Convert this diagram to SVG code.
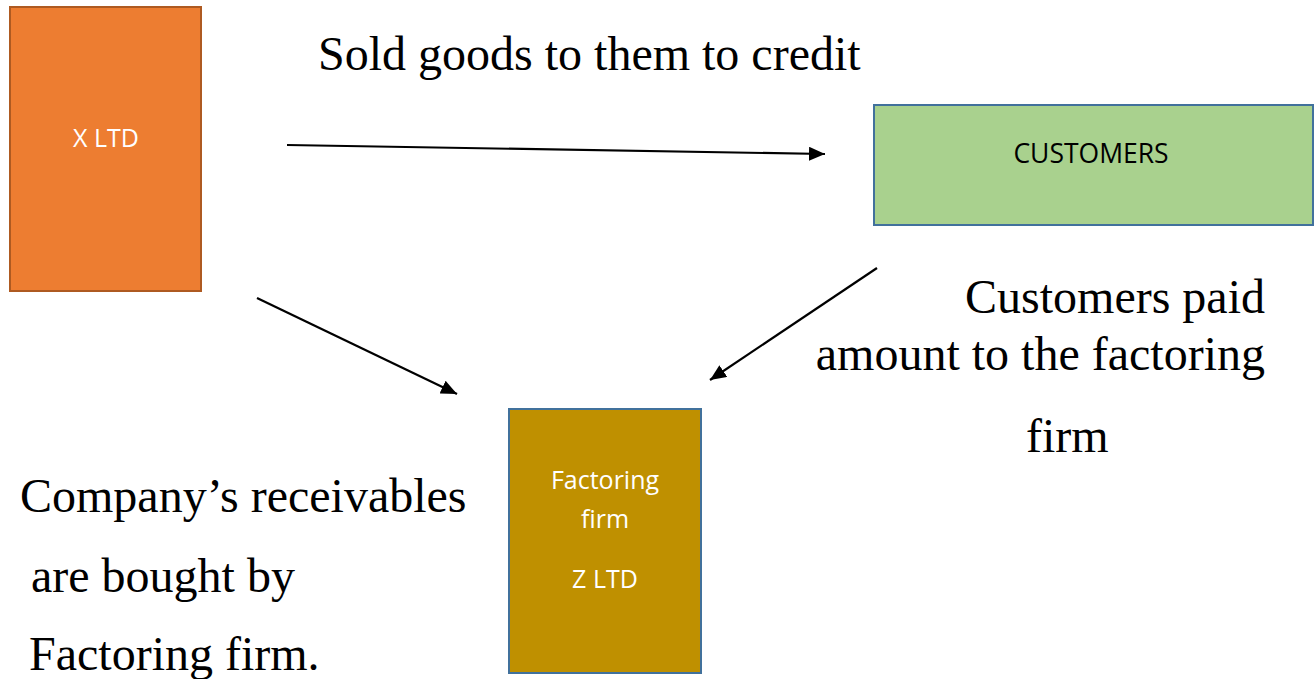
<svg xmlns="http://www.w3.org/2000/svg" width="1314" height="679" viewBox="0 0 1314 679">
<style>
.box-label{font-family:"Open Sans","Liberation Sans",sans-serif;font-size:25px;text-anchor:middle}
.note{font-family:"Liberation Serif","Times New Roman",serif;font-size:48px;fill:#000}
.conn{stroke:#000;stroke-width:2.2;fill:none}
</style>
<defs>
<marker id="arrow" markerUnits="userSpaceOnUse" markerWidth="18" markerHeight="14" refX="16" refY="7" orient="auto">
<path d="M0,0 L16,7 L0,14 Z" fill="#000"/>
</marker>
</defs>
<rect width="1314" height="679" fill="#fff"/>
<g id="node-xltd">
<rect x="10" y="7" width="191" height="284" fill="#ED7D31" stroke="#AE5A21" stroke-width="2"/>
<text class="box-label" x="106" y="147" fill="#fff">X LTD</text>
</g>
<g id="node-customers">
<rect x="874" y="105" width="439" height="120" fill="#A9D18E" stroke="#41719C" stroke-width="2"/>
<text class="box-label" x="1091" y="163" fill="#000" style="font-size:26.5px">CUSTOMERS</text>
</g>
<g id="node-factoring">
<rect x="509" y="409" width="192" height="264" fill="#BF9000" stroke="#41719C" stroke-width="2"/>
<text class="box-label" x="605" y="489" fill="#fff">Factoring</text>
<text class="box-label" x="605" y="528" fill="#fff">firm</text>
<text class="box-label" x="605" y="588" fill="#fff">Z LTD</text>
</g>
<g id="connectors">
<line class="conn" x1="287" y1="145" x2="825" y2="154" marker-end="url(#arrow)"/>
<line class="conn" x1="257" y1="298" x2="457" y2="394" marker-end="url(#arrow)"/>
<line class="conn" x1="877" y1="268" x2="710" y2="380" marker-end="url(#arrow)"/>
</g>
<g id="labels">
<text class="note" x="318" y="70">Sold goods to them to credit</text>
<text class="note" x="1265" y="313" text-anchor="end">Customers paid</text>
<text class="note" x="1265" y="370" text-anchor="end">amount to the factoring</text>
<text class="note" x="1026" y="452">firm</text>
<text class="note" x="20" y="512">Company’s receivables</text>
<text class="note" x="31" y="592">are bought by</text>
<text class="note" x="29" y="670">Factoring firm.</text>
</g>
</svg>
